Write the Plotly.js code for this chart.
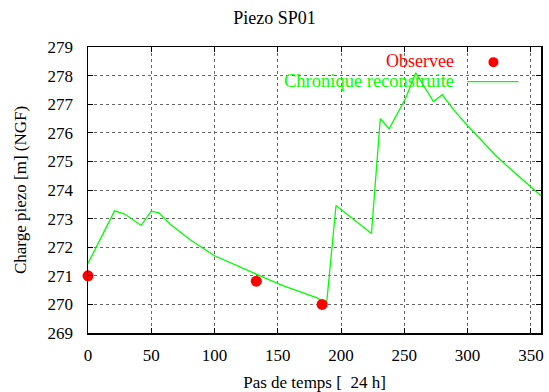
<!DOCTYPE html>
<html><head><meta charset="utf-8">
<script src="https://cdn.plot.ly/plotly-3.0.1.min.js"></script>
<style>html,body{margin:0;padding:0;background:#fff}#c{width:549px;height:392px}</style>
</head><body><div id="c"></div>
<script>
const obsX = [0, 133, 185];
const obsY = [271.0, 270.81, 270.0];
const chronX = [0, 21, 29, 42, 50, 56, 65, 81, 100, 115, 128, 141, 154, 168, 181, 188.5, 196, 224, 231, 238, 251, 259, 273, 280, 290, 300.6, 312, 323, 339, 348, 358];
const chronY = [271.43, 273.27, 273.16, 272.76, 273.26, 273.2, 272.8, 272.25, 271.7, 271.4, 271.16, 270.9, 270.66, 270.43, 270.23, 270.0, 273.46, 272.48, 276.49, 276.14, 277.21, 278.1, 277.09, 277.33, 276.75, 276.22, 275.68, 275.17, 274.53, 274.17, 273.8];
const xTicks = [0, 50, 100, 150, 200, 250, 300, 350];
const yTicks = [269, 270, 271, 272, 273, 274, 275, 276, 277, 278, 279];
const labels = {title: 'Piezo SP01', x: 'Pas de temps [  24 h]', y: 'Charge piezo [m] (NGF)', obs: 'Observee', chron: 'Chronique reconstruite'};

const F = 'Liberation Serif, serif';
const traces = [
  {x: chronX, y: chronY, mode: 'lines', line: {color: '#00ff00', width: 1.3}, showlegend: false, hoverinfo: 'skip'},
  {x: obsX, y: obsY, mode: 'markers', marker: {color: '#ff0000', size: 11}, showlegend: false, cliponaxis: false, hoverinfo: 'skip'}
];
const axisCommon = {showline: true, linecolor: '#000', linewidth: 1.5, mirror: 'ticks', ticks: 'inside', ticklen: 5, tickcolor: '#000',
  showgrid: true, gridcolor: '#666', griddash: 'dot', gridwidth: 1, zeroline: false, tickfont: {family: F, size: 17, color: '#000'}};
const layout = {
  width: 549, height: 392, margin: {l: 88, r: 8, t: 47, b: 59},
  paper_bgcolor: '#fff', plot_bgcolor: '#fff', font: {family: F, color: '#000'},
  title: {text: labels.title, font: {family: F, size: 18, color: '#000'}, x: 0.5, xanchor: 'center', y: 0.955, yanchor: 'middle'},
  xaxis: Object.assign({}, axisCommon, {range: [0, 358], tickvals: xTicks, ticklabelstandoff: 6,
    title: {text: labels.x, font: {family: F, size: 17, color: '#000'}, standoff: 12}}),
  yaxis: Object.assign({}, axisCommon, {range: [269, 279], tickvals: yTicks, ticklabelstandoff: 10,
    title: {text: labels.y, font: {family: F, size: 17, color: '#000'}, standoff: 16}}),
  shapes: [
    {type: 'rect', xref: 'paper', yref: 'paper', x0: 0.258, x1: 0.97, y0: 0.84, y1: 1, fillcolor: '#fff', line: {width: 0}, layer: 'between'},
    {type: 'circle', xref: 'paper', yref: 'paper', xsizemode: 'pixel', ysizemode: 'pixel', xanchor: 0.895, yanchor: 0.947, x0: -5, x1: 5, y0: -5, y1: 5, fillcolor: '#ff0000', line: {width: 0}, layer: 'above'},
    {type: 'line', xref: 'paper', yref: 'paper', x0: 0.837, x1: 0.95, y0: 0.879, y1: 0.879, line: {color: '#00ff00', width: 1.3}, layer: 'above'}
  ],
  annotations: [
    {text: labels.obs, xref: 'paper', yref: 'paper', x: 0.812, y: 0.952, xanchor: 'right', yanchor: 'middle', showarrow: false, font: {family: F, size: 18, color: '#ff0000'}},
    {text: labels.chron, xref: 'paper', yref: 'paper', x: 0.812, y: 0.882, xanchor: 'right', yanchor: 'middle', showarrow: false, font: {family: F, size: 18.5, color: '#00ff00'}}
  ]
};
Plotly.newPlot('c', traces, layout, {staticPlot: true, displayModeBar: false});
</script></body></html>
